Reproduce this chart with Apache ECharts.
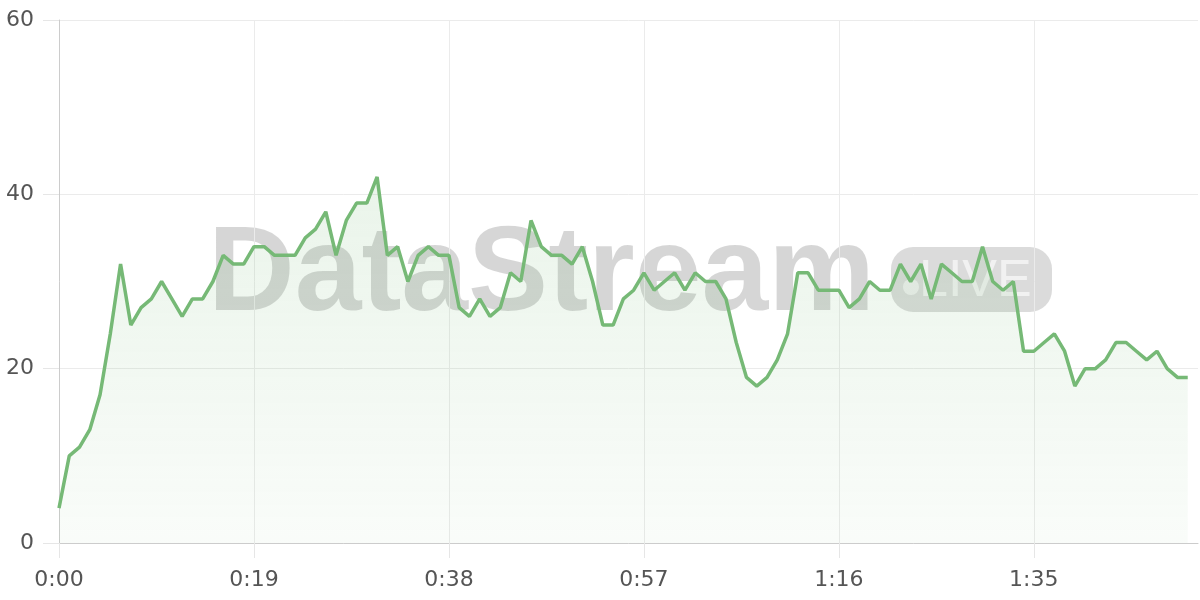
<!DOCTYPE html>
<html>
<head>
<meta charset="utf-8">
<script src="https://cdn.jsdelivr.net/npm/echarts@6/dist/echarts.min.js"></script>
<style>
html,body{margin:0;padding:0;background:#fff;}
#chart{width:1200px;height:600px;}
</style>
</head>
<body>
<div id="chart"></div>
<script>
// Values per second (0:00 .. 1:50)
const values = [
  4, 10, 11, 13, 17, 24, 32, 25, 27, 28,
  30, 28, 26, 28, 28, 30, 33, 32, 32, 34,
  34, 33, 33, 33, 35, 36, 38, 33, 37, 39,
  39, 42, 33, 34, 30, 33, 34, 33, 33, 27,
  26, 28, 26, 27, 31, 30, 37, 34, 33, 33,
  32, 34, 30, 25, 25, 28, 29, 31, 29, 30,
  31, 29, 31, 30, 30, 28, 23, 19, 18, 19,
  21, 24, 31, 31, 29, 29, 29, 27, 28, 30,
  29, 29, 32, 30, 32, 28, 32, 31, 30, 30,
  34, 30, 29, 30, 22, 22, 23, 24, 22, 18,
  20, 20, 21, 23, 23, 22, 21, 22, 20, 19,
  19
];
// Time axis categories (seconds 0..111, shown as m:ss)
const totalSeconds = 112;
const categories = [];
for (let s = 0; s < totalSeconds; s++) {
  categories.push(Math.floor(s / 60) + ':' + String(s % 60).padStart(2, '0'));
}
const yTicks = { min: 0, max: 60, interval: 20 };
const labelEvery = 19;

const chart = echarts.init(document.getElementById('chart'), null, { renderer: 'canvas' });
const lineColor = '#76b976';
const labelFont = '"DejaVu Sans", Verdana, sans-serif';

chart.setOption({
  animation: false,
  grid: { left: 59, right: 2, top: 20, bottom: 57, containLabel: false },
  graphic: [
    {
      type: 'group', z: -10, silent: true,
      children: [
        { type: 'text', left: 208, top: 217, z: -10,
          style: { text: 'DataStream', fill: 'rgba(0,0,0,0.16)', font: 'bold 120px "Liberation Sans", Arial, sans-serif' } },
        { type: 'rect', left: 891, top: 247, z: -10,
          shape: { width: 161, height: 65, r: 22 },
          style: { fill: 'rgba(0,0,0,0.14)' } },
        { type: 'circle', left: 903, top: 279, z: -9,
          shape: { r: 8 },
          style: { fill: 'rgba(255,255,255,0.55)' } },
        { type: 'text', left: 919, top: 256, z: -9,
          style: { text: 'LIVE', fill: 'rgba(255,255,255,0.6)', font: '52px "Liberation Sans", Arial, sans-serif' } }
      ]
    }
  ],
  xAxis: {
    type: 'category',
    data: categories,
    boundaryGap: false,
    axisLine: { show: true, lineStyle: { color: '#cccccc', width: 1 } },
    axisTick: { show: true, interval: labelEvery - 1, length: 15, lineStyle: { color: '#e6e6e6' } },
    axisLabel: { interval: labelEvery - 1, color: '#555', fontSize: 22, fontFamily: labelFont, margin: 26 },
    splitLine: { show: true, interval: labelEvery - 1, lineStyle: { color: '#ebebeb', width: 1 } }
  },
  yAxis: {
    type: 'value',
    min: yTicks.min, max: yTicks.max, interval: yTicks.interval,
    axisLine: { show: true, lineStyle: { color: '#cccccc', width: 1 } },
    axisTick: { show: true, length: 16, lineStyle: { color: '#e6e6e6' } },
    axisLabel: { color: '#555', fontSize: 22, fontFamily: labelFont, margin: 25 },
    splitLine: { show: true, lineStyle: { color: '#ebebeb', width: 1 } }
  },
  series: [{
    type: 'line',
    data: values,
    symbol: 'none',
    z: 5,
    lineStyle: { color: lineColor, width: 3.5 },
    areaStyle: {
      color: new echarts.graphic.LinearGradient(0, 0, 0, 1, [
        { offset: 0, color: 'rgba(118,185,118,0.22)' },
        { offset: 1, color: 'rgba(118,185,118,0.06)' }
      ])
    }
  }]
});
</script>
</body>
</html>
